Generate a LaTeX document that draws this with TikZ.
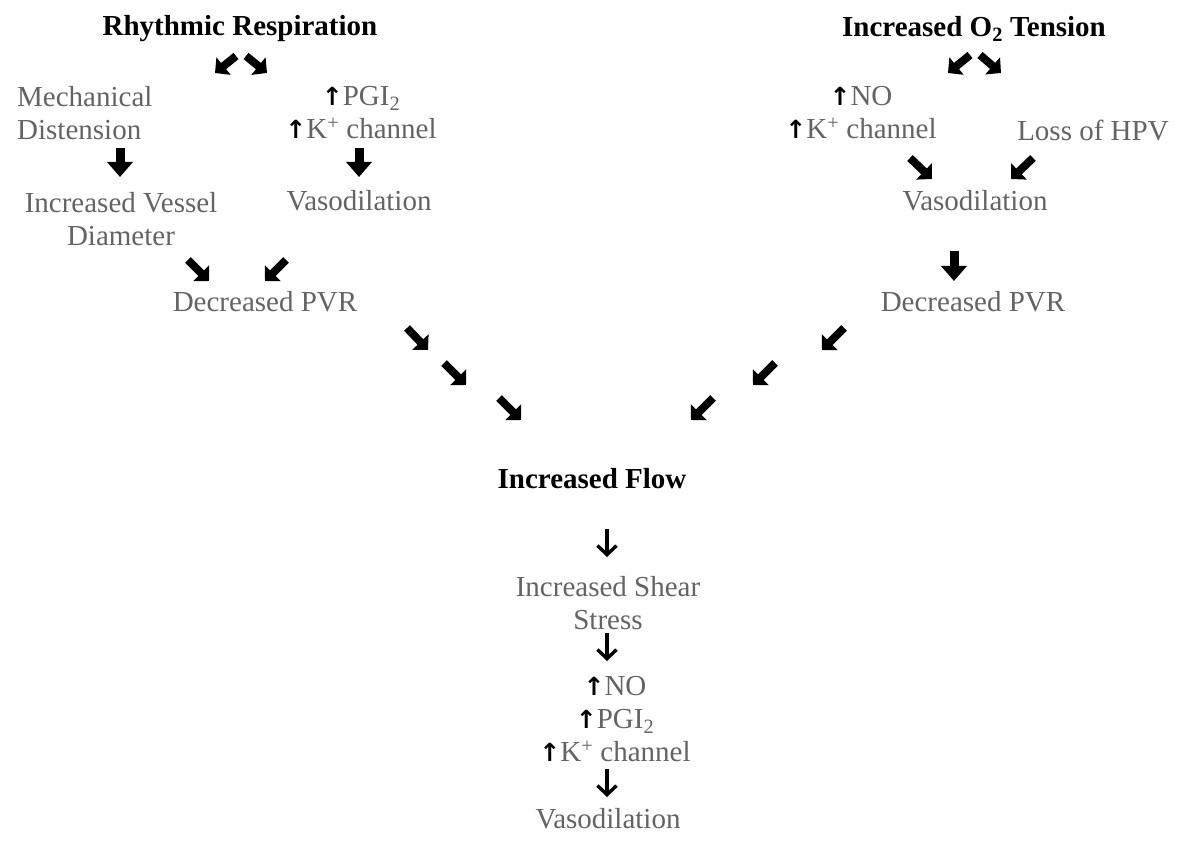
\documentclass[tikz,border=0pt]{standalone}
\usepackage{fontspec}
\setmainfont{Liberation Serif}
\newfontfamily\symf{DejaVu Sans}
\usetikzlibrary{arrows.meta}
\definecolor{txtgray}{RGB}{100,100,100}
\newcommand\upa{{\symf\bfseries\fontsize{25}{25}\selectfont\textcolor{black}{↑}}}
\tikzset{
  lbl/.style={inner sep=0pt, text=txtgray, font=\fontsize{29}{33}\selectfont, align=center},
  ttl/.style={inner sep=0pt, text=black, font=\bfseries\fontsize{29}{33}\selectfont},
  blkd/.style={line width=8pt, -{Triangle[length=11pt,width=22pt]}},
  blkv/.style={line width=9pt, -{Triangle[length=15pt,width=25pt]}},
  thinv/.style={line width=3.4pt, -{Straight Barb[length=9pt,width=19pt,line width=3.4pt]}},
}
\begin{document}
\begin{tikzpicture}[x=1pt,y=-1pt]
\useasboundingbox (0,0) rectangle (1179,842);
\fill[white] (0,0) rectangle (1179,842);
% ---- left branch
\node[ttl] (t1) at (240,29) {Rhythmic Respiration};
\node[lbl, align=left, anchor=west] (mech) at (17,113) {Mechanical\\Distension};
\node[lbl] (pgi) at (361,113) {\upa PGI\textsubscript{2}\\\upa K\textsuperscript{+} channel};
\node[lbl] (ivd) at (121,219) {Increased Vessel\\Diameter};
\node[lbl] (vaso1) at (359,201) {Vasodilation};
\node[lbl] (dpvr1) at (265,302) {Decreased PVR};
\draw[blkd] (236,56) -- (215,73);
\draw[blkd] (246,56) -- (267,73);
\draw[blkv] (120,148) -- (120,177);
\draw[blkv] (359,148) -- (359,177);
\draw[blkd] (188,260) -- (209,281);
\draw[blkd] (286,260) -- (265,281);
% ---- right branch
\node[ttl] (t2) at (974,29) {Increased O\textsubscript{2} Tension};
\node[lbl] (no) at (861,113) {\upa NO\\\upa K\textsuperscript{+} channel};
\node[lbl] (hpv) at (1093,131) {Loss of HPV};
\node[lbl] (vaso2) at (975,201) {Vasodilation};
\node[lbl] (dpvr2) at (973,302) {Decreased PVR};
\draw[blkd] (970,55) -- (948,73);
\draw[blkd] (980,55) -- (1001,73);
\draw[blkd] (910,158) -- (932,179);
\draw[blkd] (1033,158) -- (1011,179);
\draw[blkv] (954,251) -- (954,281);
% ---- converging arrows
\draw[blkd] (407,328) -- (428,350);
\draw[blkd] (444,363) -- (466,385);
\draw[blkd] (499,398) -- (521,420);
\draw[blkd] (844,328) -- (822,350);
\draw[blkd] (775,363) -- (753,385);
\draw[blkd] (713,398) -- (691,420);
% ---- bottom
\node[ttl] (flow) at (592,479) {Increased Flow};
\node[lbl] (shear) at (608,603) {Increased Shear\\Stress};
\node[lbl] (med) at (615,719) {\upa NO\\\upa PGI\textsubscript{2}\\\upa K\textsuperscript{+} channel};
\node[lbl] (vaso3) at (608,819) {Vasodilation};
\draw[thinv] (607,529) -- (607,557);
\draw[thinv] (607,633) -- (607,661);
\draw[thinv] (607,769) -- (607,797);
\end{tikzpicture}
\end{document}
